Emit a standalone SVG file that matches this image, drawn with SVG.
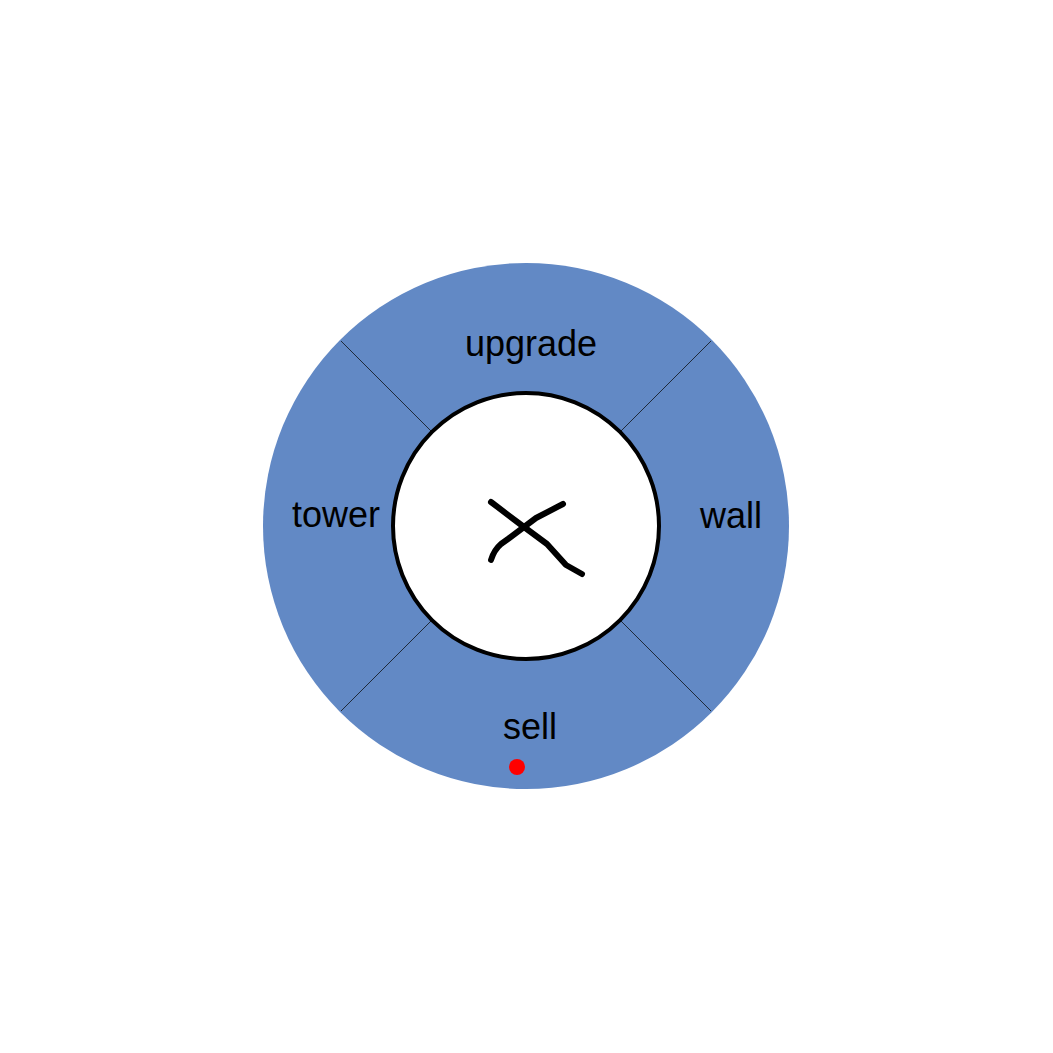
<svg xmlns="http://www.w3.org/2000/svg" width="1053" height="1053" viewBox="0 0 1053 1053">
<style>
.lbl{font-family:"Liberation Sans",Arial,sans-serif;font-size:36px;fill:#000;text-anchor:middle}
.div{stroke:#1f2a3a;stroke-width:1;fill:none}
.mark{stroke:#000;stroke-width:6;fill:none;stroke-linecap:round;stroke-linejoin:round}
</style>
<rect width="1053" height="1053" fill="#fff"/>
<g id="ring">
<circle cx="526" cy="526" r="263" fill="#6289c5"/>
</g>
<g id="connectors">
<line class="div" x1="341" y1="341" x2="431" y2="431"/>
<line class="div" x1="711" y1="341" x2="621" y2="431"/>
<line class="div" x1="341" y1="711" x2="431" y2="621"/>
<line class="div" x1="711" y1="711" x2="621" y2="621"/>
</g>
<g id="center">
<circle cx="526" cy="526" r="133" fill="#fff" stroke="#000" stroke-width="4"/>
<path class="mark" d="M491,502 L520,524 L547,544 L566,565 L582,574"/>
<path class="mark" d="M563,504 L536,518 L508,539 L501,544 Q494,550 491,560"/>
</g>
<g id="upgrade"><text class="lbl" x="531" y="356">upgrade</text></g>
<g id="tower"><text class="lbl" x="336" y="527">tower</text></g>
<g id="wall"><text class="lbl" x="731" y="528">wall</text></g>
<g id="sell"><text class="lbl" x="530" y="739">sell</text></g>
<g id="dot"><circle cx="517" cy="767" r="8" fill="#ff0000"/></g>
</svg>
